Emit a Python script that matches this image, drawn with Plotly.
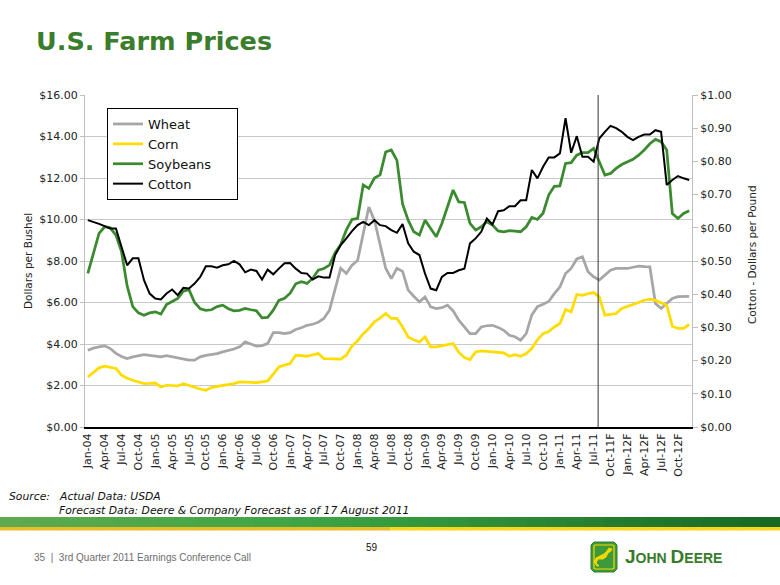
import plotly.graph_objects as go

# ---------------- data ----------------
MONTH_NAMES = ["Jan", "Feb", "Mar", "Apr", "May", "Jun", "Jul", "Aug", "Sep", "Oct", "Nov", "Dec"]
YEARS = ["04", "05", "06", "07", "08", "09", "10", "11", "12"]
FORECAST_START = 91  # Aug-11 onwards is forecast
months = []
for y in YEARS:
    for m in MONTH_NAMES:
        lab = f"{m}-{y}"
        if len(months) >= FORECAST_START:
            lab += "F"
        months.append(lab)

tick_labels = ["Jan-04", "Apr-04", "Jul-04", "Oct-04", "Jan-05", "Apr-05", "Jul-05", "Oct-05",
               "Jan-06", "Apr-06", "Jul-06", "Oct-06", "Jan-07", "Apr-07", "Jul-07", "Oct-07",
               "Jan-08", "Apr-08", "Jul-08", "Oct-08", "Jan-09", "Apr-09", "Jul-09", "Oct-09",
               "Jan-10", "Apr-10", "Jul-10", "Oct-10", "Jan-11", "Apr-11", "Jul-11", "Oct-11F",
               "Jan-12F", "Apr-12F", "Jul-12F", "Oct-12F"]

wheat = [3.70, 3.80, 3.86, 3.91, 3.78, 3.55, 3.40, 3.30, 3.38, 3.45,
         3.49, 3.45, 3.41, 3.38, 3.44, 3.38, 3.32, 3.25, 3.22, 3.22,
         3.38, 3.45, 3.49, 3.54, 3.62, 3.68, 3.76, 3.86, 4.10, 4.00,
         3.90, 3.92, 4.02, 4.55, 4.55, 4.50, 4.55, 4.70, 4.78, 4.90,
         4.95, 5.05, 5.23, 5.63, 6.60, 7.65, 7.40, 7.80, 8.02, 9.30,
         10.60, 9.95, 8.85, 7.65, 7.15, 7.65, 7.50, 6.60, 6.30, 6.03,
         6.27, 5.79, 5.71, 5.75, 5.87, 5.60, 5.15, 4.85, 4.50, 4.50,
         4.82, 4.88, 4.90, 4.80, 4.66, 4.42, 4.35, 4.18, 4.50, 5.40,
         5.80, 5.92, 6.05, 6.43, 6.75, 7.40, 7.64, 8.10, 8.20, 7.48,
         7.24, 7.08, 7.32, 7.56, 7.64, 7.65, 7.64, 7.70, 7.75, 7.73,
         7.72, 5.95, 5.71, 5.95, 6.19, 6.28, 6.30, 6.30]

corn = [2.41, 2.65, 2.85, 2.93, 2.88, 2.82, 2.50, 2.35, 2.25, 2.17,
        2.09, 2.10, 2.12, 1.93, 2.01, 2.00, 1.98, 2.09, 2.00, 1.90,
        1.83, 1.77, 1.90, 1.96, 2.00, 2.04, 2.09, 2.17, 2.17, 2.15,
        2.14, 2.18, 2.22, 2.55, 2.89, 2.98, 3.06, 3.46, 3.43, 3.41,
        3.48, 3.54, 3.30, 3.28, 3.27, 3.27, 3.46, 3.90, 4.15, 4.50,
        4.75, 5.07, 5.25, 5.47, 5.23, 5.23, 4.82, 4.34, 4.20, 4.10,
        4.34, 3.86, 3.86, 3.92, 3.97, 4.02, 3.60, 3.35, 3.25, 3.62,
        3.67, 3.64, 3.62, 3.60, 3.57, 3.41, 3.49, 3.41, 3.54, 3.78,
        4.20, 4.50, 4.60, 4.82, 4.99, 5.66, 5.55, 6.39, 6.35, 6.43,
        6.48, 6.27, 5.39, 5.43, 5.47, 5.71, 5.80, 5.92, 6.00, 6.11,
        6.16, 6.10, 6.00, 5.87, 4.86, 4.75, 4.75, 4.94]

soybeans = [7.40, 8.40, 9.33, 9.65, 9.60, 9.25, 8.45, 6.80, 5.80, 5.50,
            5.39, 5.50, 5.55, 5.44, 5.90, 6.05, 6.20, 6.55, 6.62, 6.00,
            5.70, 5.62, 5.65, 5.80, 5.87, 5.70, 5.60, 5.62, 5.71, 5.65,
            5.60, 5.26, 5.28, 5.63, 6.10, 6.20, 6.45, 6.90, 7.00, 6.92,
            7.16, 7.56, 7.64, 7.80, 8.40, 8.80, 9.50, 10.00, 10.05, 11.66,
            11.50, 12.00, 12.15, 13.25, 13.35, 12.85, 10.75, 9.97, 9.41, 9.25,
            9.97, 9.57, 9.17, 9.81, 10.61, 11.42, 10.85, 10.82, 9.81, 9.49,
            9.65, 9.89, 9.73, 9.45, 9.41, 9.46, 9.44, 9.41, 9.65, 10.10,
            10.00, 10.30, 11.18, 11.60, 11.62, 12.70, 12.74, 13.10, 13.22, 13.22,
            13.43, 12.80, 12.14, 12.22, 12.46, 12.65, 12.78, 12.90, 13.10, 13.35,
            13.65, 13.86, 13.75, 13.35, 10.29, 10.05, 10.29, 10.42]

cotton = [0.623, 0.618, 0.612, 0.605, 0.598, 0.598, 0.543, 0.487, 0.508, 0.508,
          0.442, 0.402, 0.387, 0.384, 0.402, 0.414, 0.397, 0.419, 0.417, 0.432,
          0.452, 0.484, 0.484, 0.480, 0.487, 0.490, 0.500, 0.490, 0.466, 0.474,
          0.470, 0.444, 0.474, 0.460, 0.477, 0.493, 0.494, 0.477, 0.464, 0.462,
          0.444, 0.454, 0.450, 0.450, 0.518, 0.548, 0.568, 0.590, 0.608, 0.618,
          0.608, 0.623, 0.608, 0.605, 0.593, 0.585, 0.611, 0.553, 0.528, 0.518,
          0.462, 0.417, 0.412, 0.452, 0.464, 0.464, 0.472, 0.477, 0.553, 0.568,
          0.588, 0.628, 0.610, 0.650, 0.653, 0.665, 0.665, 0.683, 0.683, 0.774,
          0.749, 0.784, 0.812, 0.812, 0.824, 0.930, 0.826, 0.876, 0.814, 0.814,
          0.799, 0.869, 0.889, 0.907, 0.900, 0.889, 0.874, 0.864, 0.874, 0.881,
          0.881, 0.894, 0.889, 0.729, 0.744, 0.756, 0.749, 0.744]

FORECAST_LINE_POS = 90.8  # between Jul-11 and Aug-11

# ---------------- layout helpers ----------------
W, H = 780, 585
L, R, T, B = 85, 692, 95, 427


def px(x):
    return (x - L) / (R - L)


def py(y):
    return (B - y) / (B - T)


FONT = "DejaVu Sans, Verdana, sans-serif"
ARIAL = "Liberation Sans, Arial, sans-serif"
GREEN = "#3A7D2C"
NB = "\u00a0"

fig = go.Figure()
fig.add_trace(go.Scatter(x=months, y=wheat, name="Wheat", mode="lines",
                         line=dict(color="#A6A6A6", width=2.75)))
fig.add_trace(go.Scatter(x=months, y=corn, name="Corn", mode="lines",
                         line=dict(color="#FFDC00", width=2.75)))
fig.add_trace(go.Scatter(x=months, y=soybeans, name="Soybeans" + NB * 5, mode="lines",
                         line=dict(color="#3B8A2F", width=2.75)))
fig.add_trace(go.Scatter(x=months, y=cotton, name="Cotton", mode="lines", yaxis="y2",
                         line=dict(color="#000000", width=2)))

shapes = []
# forecast divider
shapes.append(dict(type="line", xref="x", yref="paper", x0=FORECAST_LINE_POS, x1=FORECAST_LINE_POS,
                   y0=0, y1=1, line=dict(color="#333333", width=1)))

# green band with gradient (decorative)
n = 40
c_left = (95, 170, 80)
c_mid = (60, 165, 70)
c_right = (25, 105, 35)
for k in range(n):
    t = k / (n - 1)
    if t < 0.4:
        u = t / 0.4
        c = tuple(int(c_left[j] + (c_mid[j] - c_left[j]) * u) for j in range(3))
    else:
        u = (t - 0.4) / 0.6
        c = tuple(int(c_mid[j] + (c_right[j] - c_mid[j]) * u) for j in range(3))
    x0 = k * W / n
    x1 = (k + 1) * W / n + 0.5
    shapes.append(dict(type="rect", xref="paper", yref="paper", x0=px(x0), x1=px(x1),
                       y0=py(527), y1=py(517), line=dict(width=0), fillcolor=f"rgb{c}", layer="above"))
    cy = (235, 190, 40) if t < 0.5 else (250, 215, 30)
    shapes.append(dict(type="rect", xref="paper", yref="paper", x0=px(x0), x1=px(x1),
                       y0=py(530.5), y1=py(527), line=dict(width=0), fillcolor=f"rgb{cy}", layer="above"))


def ppath(points):
    s = "M " + " L ".join(f"{px(a):.5f},{py(b):.5f}" for a, b in points) + " Z"
    return s


# John Deere logo (simplified)
shapes.append(dict(type="path", xref="paper", yref="paper",
                   path=ppath([(594, 542), (614, 542), (617, 545), (617, 569), (614, 572),
                               (594, 572), (591, 569), (591, 545)]),
                   line=dict(color="#2F7F2F", width=1), fillcolor="#3C9A3A"))
shapes.append(dict(type="path", xref="paper", yref="paper",
                   path=ppath([(595, 545), (613, 545), (614, 546), (614, 568), (613, 569),
                               (595, 569), (594, 568), (594, 546)]),
                   line=dict(color="#F5D800", width=1.2), fillcolor="rgba(0,0,0,0)"))
shapes.append(dict(type="path", xref="paper", yref="paper",
                   path=ppath([(609, 548), (612, 549), (611, 551), (608, 553), (606, 557),
                               (603, 559), (598, 559), (596, 563), (599, 566), (597, 566),
                               (594, 562), (596, 558), (600, 556), (604, 554), (607, 551)]),
                   line=dict(color="#F5D800", width=1), fillcolor="#F5D800"))

annotations = [
    dict(text="<b>U.S. Farm Prices</b>", x=px(34), y=py(41), xref="paper", yref="paper",
         xanchor="left", yanchor="middle", showarrow=False,
         font=dict(family=FONT, size=25.5, color=GREEN)),
    dict(text="Dollars per Bushel", x=px(28), y=py(261), xref="paper", yref="paper",
         xanchor="center", yanchor="middle",
         textangle=-90, showarrow=False, font=dict(family=FONT, size=10.5, color="#222")),
    dict(text="Cotton - Dollars per Pound", x=px(752), y=py(255), xref="paper", yref="paper",
         xanchor="center", yanchor="middle",
         textangle=-90, showarrow=False, font=dict(family=FONT, size=10.5, color="#222")),
    dict(text="<i>Source:</i>", x=px(7), y=py(496), xref="paper", yref="paper",
         xanchor="left", yanchor="middle", showarrow=False,
         font=dict(family=FONT, size=10.8, color="#111")),
    dict(text="<i>Actual Data: USDA</i>", x=px(57), y=py(496), xref="paper", yref="paper",
         xanchor="left", yanchor="middle", showarrow=False,
         font=dict(family=FONT, size=10.8, color="#111")),
    dict(text="<i>Forecast Data: Deere &amp; Company Forecast as of 17 August 2011</i>",
         x=px(57), y=py(510), xref="paper", yref="paper",
         xanchor="left", yanchor="middle", showarrow=False,
         font=dict(family=FONT, size=10.8, color="#111")),
    dict(text="59", x=px(372), y=py(547), xref="paper", yref="paper",
         xanchor="center", yanchor="middle", showarrow=False,
         font=dict(family=ARIAL, size=10, color="#111")),
    dict(text="35  |  3rd Quarter 2011 Earnings Conference Call", x=px(32), y=py(557),
         xref="paper", yref="paper", xanchor="left", yanchor="middle", showarrow=False,
         font=dict(family=ARIAL, size=10, color="#6E6E6E")),
    dict(text="<b><span style='font-size:19px'>J</span>OHN <span style='font-size:19px'>D</span>EERE</b>",
         x=px(623), y=py(556), xref="paper", yref="paper", xanchor="left", yanchor="middle",
         showarrow=False, font=dict(family=ARIAL, size=14, color="#367C2B")),
]

fig.update_layout(
    width=W, height=H,
    margin=dict(l=L, r=W - R, t=T, b=H - B, pad=0),
    paper_bgcolor="white", plot_bgcolor="white",
    font=dict(family=FONT, size=11, color="#222"),
    showlegend=True,
    legend=dict(x=px(107), y=py(108), xanchor="left", yanchor="top",
                bgcolor="white", bordercolor="#000", borderwidth=1,
                font=dict(family=FONT, size=13, color="#111"),
                tracegroupgap=0, itemwidth=30),
    xaxis=dict(type="category", categoryorder="array", categoryarray=months,
               range=[-0.5, len(months) - 0.5],
               tickmode="array", tickvals=tick_labels, ticktext=tick_labels,
               tickangle=-90, tickfont=dict(family=FONT, size=11, color="#222"),
               showgrid=False, showline=True, linecolor="#000", linewidth=2,
               ticks="", zeroline=False),
    yaxis=dict(range=[0, 16], dtick=2, tickformat="$.2f",
               tickfont=dict(family=FONT, size=11, color="#222"),
               showgrid=True, gridcolor="#C8C8C8", gridwidth=1,
               showline=True, linecolor="#BFBFBF", linewidth=1,
               ticks="outside", ticklen=4, tickcolor="#BFBFBF", zeroline=False),
    yaxis2=dict(range=[0, 1], dtick=0.1, tickformat="$.2f", overlaying="y", side="right",
                tickfont=dict(family=FONT, size=11, color="#222"),
                showgrid=False, showline=True, linecolor="#BFBFBF", linewidth=1,
                ticks="outside", ticklen=5, tickcolor="#BFBFBF", zeroline=False),
    shapes=shapes,
    annotations=annotations,
)

fig.write_html("out.html", config={"displayModeBar": False},
               post_script="document.body.style.margin='0';")
